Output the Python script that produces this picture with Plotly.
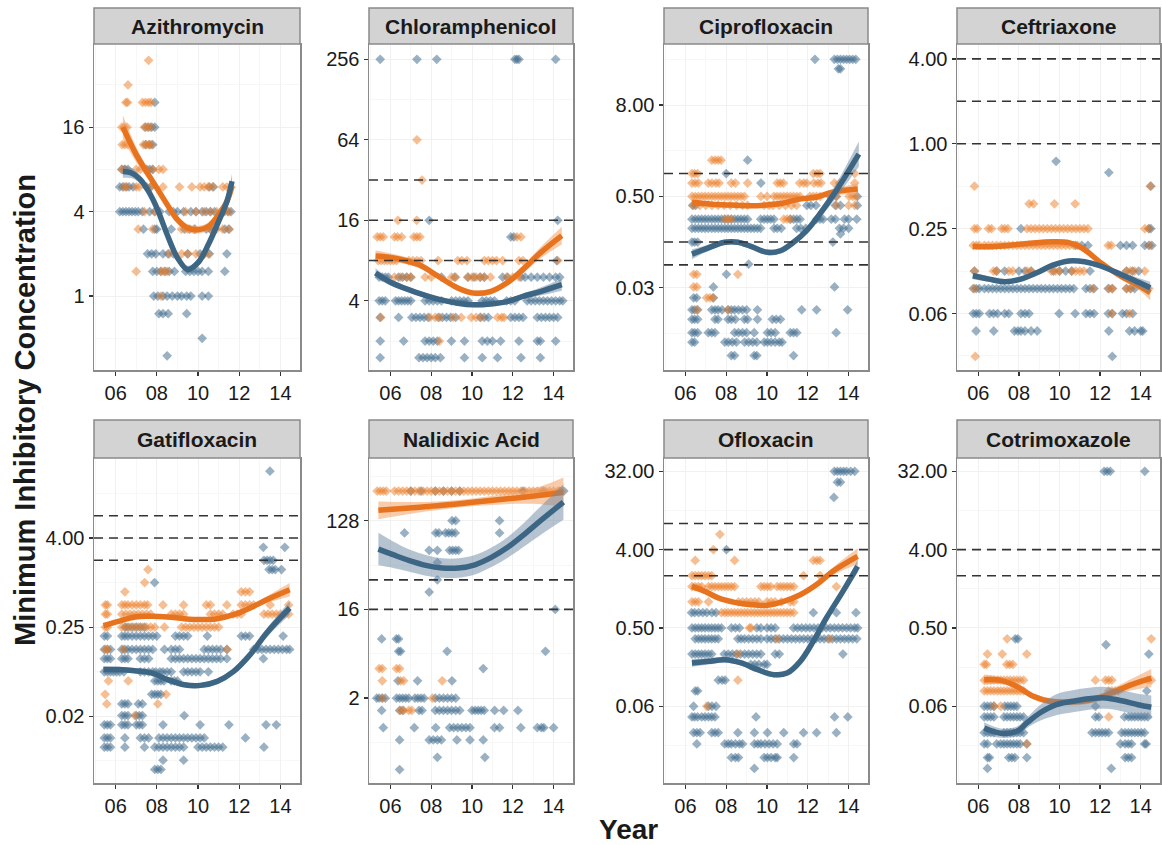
import numpy as np
import plotly.graph_objects as go

# ======================= DATA =======================
PANEL_NAMES = ["Azithromycin", "Chloramphenicol", "Ciprofloxacin", "Ceftriaxone",
               "Gatifloxacin", "Nalidixic Acid", "Ofloxacin", "Cotrimoxazole"]
YEAR_TICKS = [6, 8, 10, 12, 14]
YEAR_TICK_LABELS = ["06", "08", "10", "12", "14"]
X_TITLE = "Year"
Y_TITLE = "Minimum Inhibitory Concentration"

# y-axis ticks per panel
AZI_TICKS = [1, 4, 16];                 AZI_TICK_LABELS = ["1", "4", "16"]
CHL_TICKS = [4, 16, 64, 256];           CHL_TICK_LABELS = ["4", "16", "64", "256"]
CIP_TICKS = [0.03125, 0.5, 8];          CIP_TICK_LABELS = ["0.03", "0.50", "8.00"]
CEF_TICKS = [0.0625, 0.25, 1, 4];       CEF_TICK_LABELS = ["0.06", "0.25", "1.00", "4.00"]
GAT_TICKS = [0.015625, 0.25, 4];        GAT_TICK_LABELS = ["0.02", "0.25", "4.00"]
NAL_TICKS = [2, 16, 128];               NAL_TICK_LABELS = ["2", "16", "128"]
OFL_TICKS = [0.0625, 0.5, 4, 32];       OFL_TICK_LABELS = ["0.06", "0.50", "4.00", "32.00"]
COT_TICKS = [0.0625, 0.5, 4, 32];       COT_TICK_LABELS = ["0.06", "0.50", "4.00", "32.00"]

# visible y-range per panel (log2 of MIC)
AZI_YRANGE_LOG2 = [-1.75, 5.97]
CHL_YRANGE_LOG2 = [0.28, 8.38]
CIP_YRANGE_LOG2 = [-8.6, 5.67]
CEF_YRANGE_LOG2 = [-5.33, 2.35]
GAT_YRANGE_LOG2 = [-8.99, 5.59]
NAL_YRANGE_LOG2 = [-1.87, 9.12]
OFL_YRANGE_LOG2 = [-6.94, 5.51]
COT_YRANGE_LOG2 = [-6.94, 5.51]
YEAR_RANGE = [4.95, 14.95]

# breakpoints (dashed lines)
AZI_BREAKS = []
CHL_BREAKS = [8, 16, 32]
CIP_BREAKS = [0.0625, 0.125, 1]
CEF_BREAKS = [1, 2, 4]
GAT_BREAKS = [2, 4, 8]
NAL_BREAKS = [16, 32]
OFL_BREAKS = [2, 4, 8]
COT_BREAKS = [2, 4]

# ---- isolates: {MIC level: [years]} ----
AZI_ORANGE = {
    48: [7.6], 32: [6.6], 24: [6.5, 6.58, 7.3, 7.45, 7.6, 7.72],
    16: [6.3, 6.42, 6.55, 7.4, 7.55, 7.7], 12: [6.32, 6.45, 6.6, 7.35, 7.5, 7.62, 7.74],
    8: [6.3, 6.45, 7.0, 7.2, 7.5, 7.8, 8.1, 8.3],
    6: [6.4, 6.55, 7.0, 7.15, 7.7, 8.3, 9.1, 9.7, 10.1, 10.3, 10.5, 10.7, 11.2, 11.4, 11.6],
    4: [7.4, 7.9, 9.4, 9.9, 10.3, 10.6, 10.9, 11.1, 11.3, 11.5],
    3: [7.1, 7.8, 9.2, 9.5, 9.8, 10.6, 10.9, 11.2, 11.5],
    2: [8.6, 9.2, 9.5, 9.9, 10.3, 10.5], 1.5: [7.0, 8.2, 8.35, 8.5], 1: [8.2],
}
AZI_BLUE = {
    24: [7.9], 16: [7.45, 7.6, 7.75, 7.9], 12: [7.45, 7.65, 7.8],
    8: [6.3, 6.45, 6.6, 7.5, 7.65, 7.8],
    6: [6.2, 6.35, 6.5, 6.65, 6.85, 7.5, 7.7, 10.55, 10.75],
    4: [6.2, 6.35, 6.5, 6.65, 6.8, 6.95, 7.1, 7.3, 7.65, 7.9, 8.15, 8.6, 8.8, 9.0, 9.3, 9.65,
        9.9, 10.2, 10.4, 10.6, 10.8, 11.25, 11.45, 11.6],
    3: [7.35, 7.9, 8.0, 8.7, 9.35, 9.6, 9.85, 10.4, 10.6, 10.8, 11.3, 11.5],
    2: [7.55, 7.75, 7.95, 8.3, 8.55, 8.8, 9.5, 10.1, 10.3, 10.55, 11.4],
    1.5: [7.8, 8.0, 8.2, 8.4, 8.6, 8.85, 9.4, 9.6, 9.8, 10.0, 10.2, 10.5, 11.3],
    1: [7.85, 8.05, 8.3, 8.5, 8.75, 9.0, 9.2, 9.45, 9.65, 10.2, 10.5],
    0.75: [8.1, 8.3, 8.55, 9.45], 0.5: [10.2], 0.375: [8.5],
}
CHL_ORANGE = {
    64: [7.3], 32: [7.55], 16: [6.37, 7.29],
    12: [5.35, 5.5, 5.65, 6.2, 6.35, 6.55, 7.15, 7.3, 7.45, 12.2, 12.4],
    8: [5.4, 5.55, 5.7, 5.85, 6.0, 6.15, 6.3, 6.9, 7.1, 7.3, 7.5, 8.34, 9.3, 9.5, 9.75, 10.6,
        10.8, 11.0, 11.2, 11.5, 12.3, 12.5, 14.2],
    6: [6.2, 6.5, 6.8, 7.0, 7.7, 8.0, 9.0, 9.2, 9.8, 10.0, 10.2, 10.4, 10.6, 10.9, 11.7, 12.0, 12.3],
    3: [5.52, 7.94, 8.2, 8.42, 9.07, 9.47, 9.96, 10.2, 10.44, 11.25, 11.45, 11.57],
    2: [8.4],
}
CHL_BLUE = {
    256: [5.5, 7.3, 8.27, 12.1, 12.2, 12.3, 14.1], 16: [7.9, 14.2], 12: [11.9, 12.05], 8: [14.15],
    6: [5.45, 5.6, 5.75, 5.9, 6.4, 6.6, 6.8, 7.0, 8.5, 9.15, 9.8, 10.1, 10.4, 10.6, 11.5, 11.75,
        12.4, 12.6, 12.9, 13.2, 13.5, 13.8, 14.1, 14.3],
    4: [5.45, 5.6, 5.75, 6.25, 6.4, 6.55, 6.7, 6.85, 7.0, 7.7, 7.9, 8.1, 8.3, 8.5, 9.0, 9.2, 9.4,
        9.6, 9.8, 10.5, 10.7, 10.9, 11.1, 11.7, 11.9, 12.1, 12.7, 12.9, 13.1, 13.3, 13.5, 13.7,
        13.9, 14.1, 14.3, 14.45],
    3: [5.5, 6.4, 7.05, 7.25, 7.45, 7.65, 7.85, 8.35, 8.55, 8.75, 8.95, 9.2, 10.4, 10.6, 10.8,
        11.9, 12.1, 12.3, 12.5, 13.2, 13.4, 13.6, 13.8, 14.0, 14.2],
    2: [5.5, 6.65, 7.7, 7.9, 8.1, 8.3, 8.99, 9.63, 10.5, 10.75, 11.0, 11.4, 12.3, 13.2, 13.35, 14.1],
    1.5: [5.5, 7.4, 7.6, 7.8, 8.0, 8.2, 8.45, 9.63, 10.5, 11.25, 12.4, 13.35],
}
CIP_ORANGE = {
    1.5: [7.29, 7.45, 7.6, 7.75],
    1: [6.32, 6.45, 6.6, 12.27, 12.45, 12.6, 14.3],
    0.75: [6.32, 6.48, 6.64, 7.12, 7.3, 7.5, 7.65, 8.25, 8.45, 9.05, 10.5, 10.65, 10.8, 11.6,
           11.8, 11.95, 12.3, 12.5, 12.65, 13.3, 13.55, 14.3],
    0.5: [6.32, 6.48, 6.64, 6.8, 6.96, 7.12, 7.29, 7.45, 7.61, 7.77, 7.93, 8.09, 8.25, 8.41,
          8.57, 8.73, 8.89, 9.7, 10.0, 10.34, 10.5, 10.66, 10.82, 10.98, 11.14, 11.3, 11.46,
          11.62, 12.1, 12.27, 12.43, 12.6, 13.39, 14.03, 14.2, 14.35],
    0.38: [6.4, 6.7, 7.0, 7.3, 7.6, 7.9, 8.2, 8.5, 8.8, 9.05, 9.86, 10.1, 10.3, 10.6, 10.9,
           11.2, 11.45, 13.4, 14.0, 14.3],
    0.25: [7.93, 8.09, 8.25, 10.82, 10.98, 11.14],
    0.047: [6.4, 6.56, 8.57], 0.032: [6.4, 6.56], 0.023: [7.04, 7.2, 7.35], 0.016: [6.56, 8.09],
}
CIP_BLUE = {
    32: [12.35, 13.3, 13.45, 13.6, 13.75, 13.9, 14.05, 14.2, 14.35], 24: [13.5, 13.6],
    1.5: [9.05], 1: [8.0], 0.75: [9.7], 0.5: [13.1, 13.4, 14.43],
    0.38: [6.35, 6.5, 11.95, 12.15, 12.4, 13.35, 13.6, 14.43],
    0.25: [6.32, 6.48, 6.64, 6.8, 6.96, 7.12, 7.29, 7.45, 7.61, 7.77, 7.93, 8.09, 8.25, 8.41,
           8.57, 8.73, 8.89, 9.05, 9.69, 9.86, 10.02, 10.18, 10.34, 11.14, 11.3, 11.46, 11.62,
           12.43, 12.6, 12.75, 13.15, 13.35, 13.8, 14.0, 14.4],
    0.19: [6.32, 6.48, 6.64, 6.8, 6.96, 7.12, 7.29, 7.45, 7.61, 7.77, 7.93, 8.09, 8.25, 8.41,
           8.57, 8.73, 8.89, 9.05, 9.21, 9.37, 9.53, 9.69, 10.34, 10.5, 10.7, 11.45, 11.65,
           11.9, 13.55, 13.75, 14.0],
    0.16: [13.6], 0.125: [6.32, 6.45, 6.6, 13.23], 0.064: [9.1], 0.047: [8.01],
    0.032: [7.37, 13.31], 0.023: [6.4, 6.55, 7.37],
    0.016: [6.32, 6.45, 6.6, 7.29, 7.45, 7.6, 7.8, 8.09, 8.25, 8.41, 8.6, 8.8, 9.0, 9.53, 11.7,
            12.43, 13.95],
    0.012: [6.32, 6.45, 6.6, 7.45, 7.6, 8.09, 8.25, 8.45, 8.89, 9.05, 9.53, 10.26, 10.45, 10.66],
    0.008: [6.32, 6.45, 6.6, 7.12, 7.29, 7.45, 8.41, 8.6, 8.8, 9.0, 9.37, 10.02, 10.2, 10.4,
            11.14, 11.3, 11.46, 13.39],
    0.006: [6.32, 6.45, 7.93, 8.1, 8.3, 8.5, 8.9, 9.1, 9.3, 9.5, 9.86, 10.02, 10.2, 10.4, 10.6, 10.74],
    0.004: [8.25, 8.41, 9.37, 9.5, 11.3],
}
CEF_ORANGE = {
    0.5: [5.81, 14.47], 0.375: [8.5, 8.72, 9.75, 10.77],
    0.25: [5.81, 5.95, 6.5, 6.65, 7.15, 7.3, 7.46, 8.4, 8.6, 8.8, 9.0, 9.2, 9.4, 9.6, 9.8, 10.0,
           10.2, 10.4, 10.6, 10.8, 11.0, 11.2, 11.4, 14.2, 14.4],
    0.19: [5.75, 5.9, 6.05, 6.3, 6.5, 6.7, 6.9, 7.1, 7.3, 7.5, 7.7, 7.9, 8.1, 8.3, 8.5, 8.7, 8.9,
           9.1, 9.3, 9.5, 9.7, 9.9, 10.1, 10.3, 10.5, 10.7, 10.9, 12.4, 12.55, 14.45],
    0.125: [5.81, 6.75, 6.9, 7.5, 7.7, 8.4, 8.6, 9.6, 9.8, 10.0, 10.6, 10.8, 11.0, 11.2, 13.3,
            13.5, 13.7, 14.2],
    0.094: [5.81, 11.64, 12.45, 12.6, 13.3, 13.5, 14.4],
    0.0625: [12.58, 13.45], 0.031: [5.85],
}
CEF_BLUE = {
    0.75: [9.83], 0.625: [12.43], 0.5: [14.5], 0.25: [8.1, 14.4, 14.5],
    0.19: [10.8, 11.1, 11.4, 13.0, 13.3, 13.6, 14.2, 14.4, 14.55],
    0.125: [5.81, 6.9, 7.3, 8.0, 8.3, 8.6, 9.7, 10.0, 10.3, 10.6, 11.5, 13.3, 13.6, 13.9],
    0.094: [5.75, 5.9, 6.05, 6.3, 6.5, 6.7, 6.9, 7.1, 7.3, 7.5, 7.7, 7.9, 8.1, 8.3, 8.5, 8.7,
            8.9, 9.1, 9.3, 9.5, 9.7, 9.9, 10.1, 10.3, 10.5, 10.7, 11.3, 11.5, 11.7, 12.4, 12.6,
            13.3, 13.5, 13.7, 14.3],
    0.0625: [5.75, 5.9, 6.05, 6.55, 6.75, 6.95, 7.3, 7.5, 8.1, 8.3, 8.5, 9.98, 10.77, 11.3,
             11.5, 11.7, 12.4, 12.6, 13.1, 13.3, 13.6],
    0.047: [5.89, 6.76, 7.78, 7.95, 8.1, 8.3, 8.6, 8.9, 12.43, 13.45, 13.7, 14.0, 14.1],
    0.031: [12.6],
}
GAT_ORANGE = {
    1.5: [7.57], 1: [7.41], 0.75: [6.45, 12.1, 12.3, 12.5],
    0.5: [5.5, 5.6, 6.3, 6.45, 6.6, 6.8, 7.0, 7.2, 7.4, 7.55, 8.3, 9.3, 10.4, 10.6, 11.4, 12.1,
          12.3, 12.5, 12.7, 13.5, 14.4],
    0.375: [5.5, 5.6, 6.3, 6.5, 6.7, 6.9, 7.1, 7.3, 7.5, 7.7, 8.7, 8.9, 9.1, 9.3, 10.6, 10.8,
            11.0, 11.2, 11.7, 11.9, 12.1, 13.2, 13.4, 13.6, 13.8, 14.0, 14.2, 14.4],
    0.25: [5.5, 5.6, 6.3, 6.5, 6.7, 6.9, 7.1, 7.3, 7.5, 7.7, 7.9, 8.37, 9.2, 9.4, 9.6, 9.8,
           10.0, 10.2, 10.4, 10.6, 10.8, 11.0],
    0.125: [5.5, 5.6, 6.37, 11.41], 0.047: [5.65, 6.61], 0.031: [5.49, 8.45],
    0.023: [5.57, 8.05], 0.016: [6.93],
}
GAT_BLUE = {
    32: [13.49], 3: [13.17, 14.21], 2: [13.2, 13.35, 13.5, 13.65], 1.5: [13.45, 13.6, 13.75, 14.05],
    1: [7.89], 0.25: [6.45, 6.6, 6.8, 7.0, 7.2, 7.4],
    0.19: [5.45, 5.6, 6.3, 6.45, 6.6, 6.8, 7.0, 7.2, 7.4, 7.6, 7.8, 8.0, 8.9, 9.1, 9.3, 9.5,
           10.45, 12.1, 12.3, 12.5, 14.13],
    0.125: [5.45, 5.6, 5.75, 6.3, 6.45, 6.6, 6.8, 7.0, 7.2, 7.4, 7.6, 7.8, 8.37, 8.7, 8.9, 9.1,
            10.3, 10.5, 10.7, 10.9, 11.1, 11.4, 12.7, 12.9, 13.1, 13.3, 13.5, 13.7, 13.9, 14.1,
            14.3, 14.45],
    0.094: [5.45, 5.6, 5.75, 6.3, 6.45, 6.6, 7.2, 7.4, 7.6, 8.7, 8.9, 9.1, 9.3, 9.5, 9.7, 9.9,
            10.1, 10.3, 10.5, 10.7, 10.9, 11.1, 11.4, 13.17],
    0.0625: [5.45, 5.6, 5.75, 5.9, 6.05, 6.2, 6.4, 7.2, 7.4, 7.6, 7.8, 7.95, 8.15, 8.3, 8.5,
             8.7, 9.3, 9.5, 9.7, 9.9, 10.1, 10.5],
    0.047: [7.9, 8.05, 8.2, 8.35, 8.7, 8.85, 9.0], 0.031: [7.75, 7.9, 8.05, 8.2],
    0.023: [6.3, 6.45, 6.6, 7.1, 7.3], 0.016: [6.3, 6.45, 6.6, 7.0, 7.15, 7.3, 9.33],
    0.012: [5.45, 5.6, 5.75, 6.3, 6.45, 6.6, 7.0, 7.15, 7.3, 8.3, 10.1, 11.5, 13.3, 13.8],
    0.008: [5.45, 5.6, 5.75, 6.45, 7.2, 7.4, 7.6, 8.1, 8.3, 8.5, 8.7, 8.9, 9.1, 9.3, 9.5, 9.7,
            9.9, 10.1, 10.3, 12.3],
    0.006: [5.45, 5.6, 5.75, 6.45, 7.4, 7.9, 8.1, 8.3, 8.5, 8.7, 8.9, 9.1, 9.3, 10.0, 10.2,
            10.4, 10.6, 10.8, 11.0, 11.2, 13.2],
    0.004: [8.3, 9.3], 0.003: [7.9, 8.05, 8.2],
}
NAL_ORANGE = {
    256: [5.35, 5.5, 5.65, 5.8, 6.2, 6.4, 6.6, 6.8, 7.0, 7.2, 7.4, 7.6, 7.8, 8.0, 8.2, 8.4, 8.6,
          8.8, 9.0, 9.2, 9.4, 9.6, 9.8, 10.0, 10.2, 10.4, 10.6, 10.8, 11.0, 11.2, 11.4, 11.6,
          11.8, 12.0, 12.2, 12.4, 12.6, 12.8, 13.0, 13.2, 13.4, 13.6, 13.8, 14.0, 14.2, 14.4],
    4: [5.45, 5.6, 6.3, 6.45], 3: [5.6, 6.5, 6.65, 8.54], 2: [5.6, 8.06],
    1.5: [6.5, 6.65, 6.9, 7.05],
}
NAL_BLUE = {
    256: [7.0, 7.5, 8.2, 8.6, 9.0, 9.4, 12.5, 13.5, 14.3, 14.5],
    128: [9.02, 9.2, 11.35], 96: [6.69, 8.22, 8.38, 8.7, 8.86, 9.02, 9.18, 11.35],
    64: [7.9, 8.3, 8.9, 9.05, 9.2, 9.34], 48: [8.3], 32: [8.3], 24: [7.9], 16: [14.08],
    8: [5.57, 6.29, 6.4], 6: [6.4, 6.5, 8.78, 13.6], 4: [10.55], 3: [6.37, 7.33, 9.02],
    2: [5.33, 5.45, 5.6, 5.75, 6.3, 6.45, 6.6, 6.75, 6.9, 7.2, 7.35, 7.5, 7.65, 8.2, 8.4, 8.6,
        8.8, 9.0, 9.2],
    1.5: [5.57, 6.45, 6.6, 7.4, 7.55, 8.2, 8.4, 8.6, 8.8, 9.0, 9.2, 9.4, 10.0, 10.15, 10.3,
          10.45, 10.6, 11.11, 11.55, 12.25],
    1: [5.65, 7.17, 8.22, 8.9, 9.1, 9.3, 9.5, 9.7, 9.9, 11.1, 11.35, 12.39, 13.2, 13.4, 13.52, 14.0],
    0.75: [6.45, 7.9, 8.1, 8.3, 8.5, 9.26, 9.9, 10.55], 0.5: [8.3, 10.63], 0.375: [6.45],
}
OFL_ORANGE = {
    6: [7.69], 4: [7.37], 3: [6.48, 8.41, 12.27, 12.45, 12.6],
    2: [6.32, 6.48, 6.64, 6.8, 6.96, 7.13, 7.29, 11.79, 12.6],
    1.5: [6.32, 6.48, 6.64, 6.8, 7.13, 7.29, 7.45, 7.61, 7.77, 7.93, 8.09, 8.25, 8.41, 9.7,
          9.86, 10.02, 10.18, 10.5, 10.66, 10.82, 10.98, 11.14, 11.31, 13.4],
    1: [6.32, 6.48, 6.64, 7.13, 8.6, 8.8, 9.0, 9.2, 9.4, 9.6, 10.0, 10.2, 10.4, 10.7, 11.14, 11.31],
    0.75: [7.77, 7.93, 8.09, 8.25, 8.41, 8.57, 8.73, 8.89, 9.05, 9.22, 9.38, 9.54, 9.7, 9.86,
           10.02, 10.18, 10.34, 10.5, 10.66, 10.82, 10.98, 11.14, 11.31],
    0.5: [9.14, 9.22], 0.375: [10.5, 13.07], 0.25: [8.57], 0.125: [8.57], 0.0625: [7.05],
}
OFL_BLUE = {
    32: [13.3, 13.45, 13.6, 13.75, 13.9, 14.1, 14.3], 24: [13.45, 13.6], 16: [13.28], 4: [8.01],
    0.75: [6.3, 6.45, 6.65, 6.85, 7.05, 7.3, 7.5, 12.27, 13.4, 14.36],
    0.5: [6.32, 6.48, 6.64, 6.8, 6.96, 7.13, 7.29, 7.45, 7.61, 7.77, 8.25, 8.45, 8.65, 9.5, 9.7,
          10.0, 10.2, 10.4, 11.3, 11.5, 11.7, 11.9, 12.1, 12.3, 12.5, 12.7, 12.9, 13.1, 13.3,
          13.5, 13.7, 13.9, 14.1, 14.3, 14.44],
    0.375: [6.48, 6.64, 6.8, 6.96, 7.13, 7.29, 7.45, 7.61, 8.57, 8.73, 8.9, 9.1, 9.3, 9.5, 9.7,
            10.0, 10.2, 10.4, 10.6, 10.8, 11.0, 11.2, 11.4, 11.6, 11.8, 12.0, 12.2, 12.4, 12.6,
            12.8, 13.0, 13.2, 13.4, 13.6, 13.8, 14.0, 14.2, 14.4],
    0.25: [6.32, 6.48, 6.64, 6.8, 6.96, 7.13, 7.29, 7.9, 8.1, 8.3, 8.5, 8.7, 8.9, 9.1, 9.3, 9.5,
           9.7, 10.4, 10.6, 13.72],
    0.19: [9.2, 9.4, 9.6, 9.86, 10.0], 0.125: [7.61, 7.8, 7.95], 0.094: [6.48, 6.6],
    0.0625: [6.4, 7.13, 7.3, 7.5],
    0.047: [6.32, 6.45, 6.6, 6.8, 6.96, 7.13, 7.29, 7.45, 9.46, 13.31, 13.96],
    0.031: [6.4, 6.56, 6.72, 7.29, 7.45, 7.61, 8.57, 9.38, 10.02, 10.82, 11.79, 12.43, 13.4],
    0.023: [6.56, 7.93, 8.1, 8.25, 8.45, 8.65, 8.8, 9.38, 9.55, 9.7, 9.9, 10.1, 10.3, 10.5,
            11.31, 11.47],
    0.016: [8.25, 8.45, 8.6, 9.86, 10.02, 10.2, 10.4, 10.5, 11.31], 0.012: [9.38],
}
COT_ORANGE = {
    0.375: [7.42, 14.52], 0.25: [6.45, 7.18, 8.39], 0.19: [6.29, 6.4, 7.4, 7.55, 7.7],
    0.125: [6.29, 6.45, 6.61, 6.77, 6.94, 7.1, 7.26, 7.42, 7.58, 7.74, 7.9, 8.06, 8.23, 11.77,
            12.26, 12.42, 12.58, 14.35, 14.52],
    0.094: [6.29, 6.45, 6.61, 6.77, 6.94, 7.1, 7.26, 7.42, 7.58, 7.74, 7.9, 8.06, 8.23, 12.42,
            12.58, 12.74, 12.9],
    0.0625: [6.77, 7.1], 0.047: [12.42], 0.023: [8.39],
}
COT_BLUE = {
    32: [12.2, 12.35, 12.5, 14.2], 0.375: [7.82, 7.95], 0.32: [12.29], 0.25: [14.4], 0.094: [14.3],
    0.0625: [6.29, 6.45, 6.61, 6.77, 7.3, 7.45, 7.6, 7.75, 7.9, 11.77],
    0.047: [6.29, 6.45, 6.61, 6.77, 7.26, 7.42, 7.58, 7.74, 7.9, 8.06, 8.23, 11.77, 11.94, 13.2,
            13.4, 13.55, 13.71, 13.87, 14.03, 14.19, 14.35],
    0.031: [6.29, 6.45, 6.61, 6.77, 7.26, 7.42, 7.58, 7.74, 7.9, 8.06, 8.23, 11.6, 11.77, 11.94,
            12.1, 12.26, 12.42, 13.06, 13.23, 13.39, 13.55, 13.71, 13.87, 14.03, 14.19],
    0.023: [6.29, 6.45, 6.9, 7.1, 7.26, 7.42, 7.58, 7.74, 7.9, 8.06, 8.39, 13.0, 13.23, 13.39,
            13.55, 14.19, 14.27],
    0.016: [6.45, 6.55, 7.5, 7.65, 7.8, 8.39, 13.23, 13.39, 13.55], 0.012: [6.45, 12.55],
}

# ---- smoothed trends: year, log2(MIC), half-width of band (log2) ----
AZI_FIT_O_X = [6.35, 7.0, 7.6, 8.0, 8.5, 9.0, 9.5, 10.0, 10.5, 11.0, 11.4, 11.65]
AZI_FIT_O_Y = [4.0, 3.35, 2.87, 2.56, 2.17, 1.81, 1.61, 1.57, 1.65, 1.93, 2.24, 2.6]
AZI_FIT_O_HW = [0.28, 0.18, 0.12, 0.1, 0.09, 0.09, 0.09, 0.09, 0.09, 0.1, 0.13, 0.2]
AZI_FIT_B_X = [6.35, 6.8, 7.2, 7.6, 8.0, 8.5, 9.0, 9.5, 10.0, 10.5, 11.0, 11.4, 11.65]
AZI_FIT_B_Y = [2.95, 2.91, 2.76, 2.48, 2.09, 1.46, 0.91, 0.63, 0.79, 1.22, 1.77, 2.24, 2.72]
AZI_FIT_B_HW = [0.15, 0.12, 0.1, 0.09, 0.08, 0.08, 0.08, 0.09, 0.09, 0.08, 0.09, 0.12, 0.18]

CHL_FIT_O_X = [5.27, 6.08, 7.37, 8.34, 9.3, 10.1, 10.9, 11.7, 12.5, 13.35, 14.4]
CHL_FIT_O_Y = [3.11, 3.07, 2.9, 2.61, 2.32, 2.19, 2.23, 2.44, 2.78, 3.19, 3.62]
CHL_FIT_O_HW = [0.14, 0.1, 0.08, 0.07, 0.07, 0.07, 0.07, 0.08, 0.1, 0.14, 0.22]
CHL_FIT_B_X = [5.27, 6.08, 7.37, 8.34, 9.3, 10.1, 10.9, 11.7, 12.5, 13.35, 14.4]
CHL_FIT_B_Y = [2.69, 2.44, 2.19, 2.04, 1.94, 1.9, 1.92, 1.98, 2.11, 2.23, 2.4]
CHL_FIT_B_HW = [0.12, 0.08, 0.06, 0.06, 0.06, 0.06, 0.06, 0.06, 0.07, 0.1, 0.15]

CIP_FIT_O_X = [6.32, 7.29, 8.25, 9.2, 10.2, 10.8, 11.6, 12.4, 13.2, 14.45]
CIP_FIT_O_Y = [-1.26, -1.34, -1.38, -1.41, -1.36, -1.29, -1.12, -1.04, -0.82, -0.68]
CIP_FIT_O_HW = [0.1, 0.07, 0.06, 0.06, 0.06, 0.06, 0.07, 0.08, 0.12, 0.25]
CIP_FIT_B_X = [6.32, 6.96, 7.93, 8.57, 9.21, 10.02, 10.66, 11.3, 11.94, 12.59, 13.39, 14.5]
CIP_FIT_B_Y = [-3.53, -3.31, -3.01, -3.01, -3.19, -3.45, -3.38, -3.01, -2.5, -1.77, -0.75, 0.85]
CIP_FIT_B_HW = [0.22, 0.15, 0.12, 0.12, 0.12, 0.12, 0.12, 0.14, 0.15, 0.2, 0.3, 0.55]

CEF_FIT_O_X = [5.73, 6.83, 8.41, 9.67, 10.46, 11.09, 12.03, 12.98, 13.92, 14.47]
CEF_FIT_O_Y = [-2.42, -2.42, -2.35, -2.31, -2.33, -2.45, -2.8, -3.11, -3.35, -3.51]
CEF_FIT_O_HW = [0.06, 0.04, 0.04, 0.04, 0.04, 0.05, 0.06, 0.07, 0.1, 0.18]
CEF_FIT_B_X = [5.73, 6.52, 7.31, 8.09, 8.88, 9.67, 10.46, 11.24, 12.03, 12.98, 13.92, 14.47]
CEF_FIT_B_Y = [-3.11, -3.19, -3.25, -3.19, -3.04, -2.86, -2.76, -2.78, -2.88, -3.07, -3.27, -3.39]
CEF_FIT_B_HW = [0.08, 0.06, 0.05, 0.05, 0.05, 0.05, 0.05, 0.05, 0.06, 0.07, 0.1, 0.14]

GAT_FIT_O_X = [5.41, 6.13, 6.93, 7.73, 8.53, 9.33, 10.13, 10.93, 11.73, 12.53, 13.33, 14.45]
GAT_FIT_O_Y = [-1.93, -1.74, -1.54, -1.51, -1.54, -1.62, -1.66, -1.62, -1.44, -1.14, -0.77, -0.32]
GAT_FIT_O_HW = [0.12, 0.08, 0.06, 0.06, 0.06, 0.06, 0.06, 0.06, 0.07, 0.1, 0.15, 0.3]
GAT_FIT_B_X = [5.41, 6.13, 6.93, 7.73, 8.53, 9.33, 10.13, 10.93, 11.73, 12.53, 13.33, 14.45]
GAT_FIT_B_Y = [-3.9, -3.9, -3.95, -4.05, -4.35, -4.58, -4.61, -4.43, -3.98, -3.23, -2.26, -1.14]
GAT_FIT_B_HW = [0.15, 0.12, 0.12, 0.12, 0.12, 0.12, 0.12, 0.12, 0.13, 0.15, 0.2, 0.3]

NAL_FIT_O_X = [5.41, 6.93, 8.54, 10.14, 11.75, 13.36, 14.48]
NAL_FIT_O_Y = [7.35, 7.43, 7.52, 7.63, 7.74, 7.86, 7.96]
NAL_FIT_O_HW = [0.3, 0.2, 0.14, 0.13, 0.18, 0.3, 0.5]
NAL_FIT_B_X = [5.41, 6.13, 6.93, 7.73, 8.54, 9.34, 10.14, 10.95, 11.75, 12.55, 13.36, 14.48]
NAL_FIT_B_Y = [6.04, 5.85, 5.65, 5.49, 5.4, 5.4, 5.51, 5.76, 6.1, 6.53, 7.0, 7.63]
NAL_FIT_B_HW = [0.55, 0.45, 0.38, 0.35, 0.33, 0.33, 0.33, 0.33, 0.35, 0.4, 0.48, 0.6]

OFL_FIT_O_X = [6.32, 6.96, 7.61, 8.41, 9.22, 10.02, 10.82, 11.63, 12.43, 13.23, 14.44]
OFL_FIT_O_Y = [0.59, 0.4, 0.15, -0.02, -0.11, -0.13, 0.02, 0.27, 0.66, 1.17, 1.74]
OFL_FIT_O_HW = [0.15, 0.1, 0.08, 0.07, 0.07, 0.07, 0.07, 0.08, 0.1, 0.15, 0.3]
OFL_FIT_B_X = [6.32, 7.13, 7.93, 8.73, 9.54, 10.34, 10.98, 11.63, 12.27, 12.91, 13.72, 14.44]
OFL_FIT_B_Y = [-2.34, -2.28, -2.22, -2.34, -2.6, -2.79, -2.73, -2.28, -1.51, -0.62, 0.4, 1.36]
OFL_FIT_B_HW = [0.15, 0.12, 0.1, 0.1, 0.1, 0.1, 0.1, 0.1, 0.12, 0.13, 0.15, 0.25]

COT_FIT_O_X = [6.29, 7.1, 7.9, 8.71, 9.52, 10.32, 11.13, 11.94, 12.74, 13.55, 14.52]
COT_FIT_O_Y = [-2.98, -3.01, -3.24, -3.62, -3.81, -3.84, -3.81, -3.68, -3.43, -3.17, -2.92]
COT_FIT_O_HW = [0.2, 0.14, 0.12, 0.12, 0.12, 0.12, 0.13, 0.14, 0.16, 0.22, 0.35]
COT_FIT_B_X = [6.29, 7.1, 7.9, 8.39, 9.03, 9.84, 10.65, 11.45, 12.26, 13.06, 13.87, 14.52]
COT_FIT_B_Y = [-4.83, -5.03, -4.96, -4.64, -4.26, -3.94, -3.81, -3.71, -3.68, -3.79, -3.94, -4.04]
COT_FIT_B_HW = [0.22, 0.18, 0.18, 0.2, 0.3, 0.4, 0.42, 0.42, 0.42, 0.4, 0.42, 0.45]

# ======================= STYLE / LAYOUT =======================
W, H = 1162, 845
COL_PX = [(94, 300), (369, 573), (664, 868), (957, 1160)]   # page pixels
ROW_PX = [(44, 370, 8), (458, 783, 420)]                     # plot top, plot bottom, strip top
FONT = "Liberation Sans, Arial, sans-serif"
FRAME = "#8a8a8a"
ORANGE_PT = "rgba(236,125,40,0.5)"
BLUE_PT = "rgba(62,106,140,0.52)"
ORANGE_LINE = "#E8731E"
BLUE_LINE = "#3D6684"
ORANGE_BAND = "rgba(243,160,100,0.55)"
BLUE_BAND = "rgba(110,138,165,0.5)"

def px_x(v):
    return v / W

def px_y(v):
    return 1 - v / H

panels = [
    dict(ticks=AZI_TICKS, labels=AZI_TICK_LABELS, yr=AZI_YRANGE_LOG2, breaks=AZI_BREAKS, o=AZI_ORANGE, b=AZI_BLUE,
         fo=(AZI_FIT_O_X, AZI_FIT_O_Y, AZI_FIT_O_HW), fb=(AZI_FIT_B_X, AZI_FIT_B_Y, AZI_FIT_B_HW)),
    dict(ticks=CHL_TICKS, labels=CHL_TICK_LABELS, yr=CHL_YRANGE_LOG2, breaks=CHL_BREAKS, o=CHL_ORANGE, b=CHL_BLUE,
         fo=(CHL_FIT_O_X, CHL_FIT_O_Y, CHL_FIT_O_HW), fb=(CHL_FIT_B_X, CHL_FIT_B_Y, CHL_FIT_B_HW)),
    dict(ticks=CIP_TICKS, labels=CIP_TICK_LABELS, yr=CIP_YRANGE_LOG2, breaks=CIP_BREAKS, o=CIP_ORANGE, b=CIP_BLUE,
         fo=(CIP_FIT_O_X, CIP_FIT_O_Y, CIP_FIT_O_HW), fb=(CIP_FIT_B_X, CIP_FIT_B_Y, CIP_FIT_B_HW)),
    dict(ticks=CEF_TICKS, labels=CEF_TICK_LABELS, yr=CEF_YRANGE_LOG2, breaks=CEF_BREAKS, o=CEF_ORANGE, b=CEF_BLUE,
         fo=(CEF_FIT_O_X, CEF_FIT_O_Y, CEF_FIT_O_HW), fb=(CEF_FIT_B_X, CEF_FIT_B_Y, CEF_FIT_B_HW)),
    dict(ticks=GAT_TICKS, labels=GAT_TICK_LABELS, yr=GAT_YRANGE_LOG2, breaks=GAT_BREAKS, o=GAT_ORANGE, b=GAT_BLUE,
         fo=(GAT_FIT_O_X, GAT_FIT_O_Y, GAT_FIT_O_HW), fb=(GAT_FIT_B_X, GAT_FIT_B_Y, GAT_FIT_B_HW)),
    dict(ticks=NAL_TICKS, labels=NAL_TICK_LABELS, yr=NAL_YRANGE_LOG2, breaks=NAL_BREAKS, o=NAL_ORANGE, b=NAL_BLUE,
         fo=(NAL_FIT_O_X, NAL_FIT_O_Y, NAL_FIT_O_HW), fb=(NAL_FIT_B_X, NAL_FIT_B_Y, NAL_FIT_B_HW)),
    dict(ticks=OFL_TICKS, labels=OFL_TICK_LABELS, yr=OFL_YRANGE_LOG2, breaks=OFL_BREAKS, o=OFL_ORANGE, b=OFL_BLUE,
         fo=(OFL_FIT_O_X, OFL_FIT_O_Y, OFL_FIT_O_HW), fb=(OFL_FIT_B_X, OFL_FIT_B_Y, OFL_FIT_B_HW)),
    dict(ticks=COT_TICKS, labels=COT_TICK_LABELS, yr=COT_YRANGE_LOG2, breaks=COT_BREAKS, o=COT_ORANGE, b=COT_BLUE,
         fo=(COT_FIT_O_X, COT_FIT_O_Y, COT_FIT_O_HW), fb=(COT_FIT_B_X, COT_FIT_B_Y, COT_FIT_B_HW)),
]

fig = go.Figure()
layout = dict(width=W, height=H, margin=dict(l=0, r=0, t=0, b=0), autosize=False,
              paper_bgcolor="white", plot_bgcolor="white", showlegend=False,
              font=dict(family=FONT, color="#1a1a1a"))
shapes, annotations = [], []
LOG2 = np.log10(2.0)
TICKFONT = dict(size=20, family=FONT, color="#1a1a1a")

def flatten(pts):
    xs, ys = [], []
    for lvl, yrs in pts.items():
        xs.extend(yrs)
        ys.extend([lvl] * len(yrs))
    return xs, ys

for i, p in enumerate(panels):
    n = i + 1
    sfx = "" if n == 1 else str(n)
    xa, ya = "x" + sfx, "y" + sfx
    col = COL_PX[i % 4]
    row = ROW_PX[i // 4]

    # isolates
    for pts, c in [(p["b"], BLUE_PT), (p["o"], ORANGE_PT)]:
        xs, ys = flatten(pts)
        fig.add_trace(go.Scatter(x=xs, y=ys, mode="markers", xaxis=xa, yaxis=ya, hoverinfo="skip",
                                 marker=dict(symbol="diamond", size=7.5, color=c, line=dict(width=0))))
    # trend bands and lines
    for (fx, fy, fhw), bandc, linec in [(p["fo"], ORANGE_BAND, ORANGE_LINE), (p["fb"], BLUE_BAND, BLUE_LINE)]:
        fy = np.array(fy); hw = np.array(fhw)
        fig.add_trace(go.Scatter(x=fx, y=np.power(2.0, fy - hw), mode="lines", xaxis=xa, yaxis=ya,
                                 hoverinfo="skip", line=dict(width=0, shape="spline")))
        fig.add_trace(go.Scatter(x=fx, y=np.power(2.0, fy + hw), mode="lines", xaxis=xa, yaxis=ya,
                                 hoverinfo="skip", line=dict(width=0, shape="spline"),
                                 fill="tonexty", fillcolor=bandc))
        fig.add_trace(go.Scatter(x=fx, y=np.power(2.0, fy), mode="lines", xaxis=xa, yaxis=ya,
                                 hoverinfo="skip", line=dict(width=5.5, color=linec, shape="spline")))
    # breakpoints
    for bp in p["breaks"]:
        fig.add_trace(go.Scatter(x=YEAR_RANGE, y=[bp, bp], mode="lines", xaxis=xa, yaxis=ya,
                                 hoverinfo="skip", line=dict(color="#333333", width=1.6, dash="9px,6px")))

    t = p["ticks"]
    r = t[1] / t[0]
    yminor = [t[0] / np.sqrt(r)] + [np.sqrt(t[k] * t[k + 1]) for k in range(len(t) - 1)] + [t[-1] * np.sqrt(r)]

    layout["xaxis" + sfx] = dict(
        domain=[px_x(col[0]), px_x(col[1])], anchor=ya, range=YEAR_RANGE,
        tickvals=YEAR_TICKS, ticktext=YEAR_TICK_LABELS, ticks="outside", ticklen=4,
        tickcolor="#333333", tickwidth=1.3, showline=True, mirror=True, linecolor=FRAME, linewidth=1.5,
        showgrid=True, gridcolor="#F1F1F1", gridwidth=1, zeroline=False, tickfont=TICKFONT,
        minor=dict(tickvals=[5, 7, 9, 11, 13], showgrid=True, gridcolor="#F7F7F7", ticks=""))
    layout["yaxis" + sfx] = dict(
        domain=[px_y(row[1]), px_y(row[0])], anchor=xa, type="log",
        range=[p["yr"][0] * LOG2, p["yr"][1] * LOG2],
        tickvals=t, ticktext=p["labels"], ticks="outside", ticklen=4,
        tickcolor="#333333", tickwidth=1.3, showline=True, mirror=True, linecolor=FRAME, linewidth=1.5,
        showgrid=True, gridcolor="#F1F1F1", gridwidth=1, zeroline=False, tickfont=TICKFONT,
        minor=dict(tickvals=yminor, showgrid=True, gridcolor="#F7F7F7", ticks=""))

    # facet strip
    shapes.append(dict(type="rect", xref="paper", yref="paper",
                       x0=px_x(col[0]), x1=px_x(col[1]), y0=px_y(row[0]), y1=px_y(row[2]),
                       fillcolor="#D3D3D3", line=dict(color=FRAME, width=1.5), layer="above"))
    annotations.append(dict(text="<b>" + PANEL_NAMES[i] + "</b>", xref="paper", yref="paper",
                            x=px_x((col[0] + col[1]) / 2), y=px_y((row[0] + row[2]) / 2),
                            showarrow=False, xanchor="center", yanchor="middle",
                            font=dict(size=21, family=FONT, color="#1a1a1a")))

annotations.append(dict(text="<b>" + X_TITLE + "</b>", xref="paper", yref="paper", x=px_x(628), y=px_y(829),
                        showarrow=False, xanchor="center", yanchor="middle",
                        font=dict(size=28, family=FONT, color="#1a1a1a")))
annotations.append(dict(text="<b>" + Y_TITLE + "</b>", xref="paper", yref="paper", x=px_x(25), y=px_y(410),
                        showarrow=False, xanchor="center", yanchor="middle", textangle=-90,
                        font=dict(size=29, family=FONT, color="#1a1a1a")))

layout["shapes"] = shapes
layout["annotations"] = annotations
fig.update_layout(**layout)
# remove the page's default body margin so the 1162x845 figure fills the window exactly
fig.write_html("out.html",
               config={"displayModeBar": False, "staticPlot": True},
               post_script="document.body.style.margin='0';"
                           "document.body.style.overflow='hidden';"
                           "document.documentElement.style.overflow='hidden';")
